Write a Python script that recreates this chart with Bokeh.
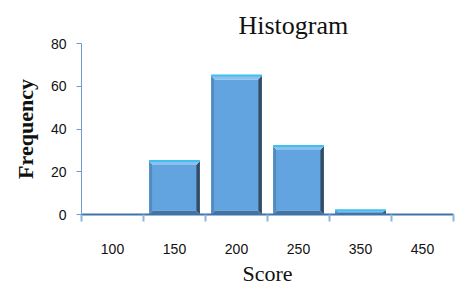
from bokeh.plotting import figure
from bokeh.models import FixedTicker, Range1d
from bokeh.embed import file_html
from bokeh.resources import INLINE

categories = ["100", "150", "200", "250", "350", "450"]
frequency = [0, 25, 65, 32, 2, 0]
y_ticks = [0, 20, 40, 60, 80]

p = figure(width=462, height=288, output_backend="svg", toolbar_location=None,
           x_range=Range1d(0, len(categories)), y_range=Range1d(0, 80),
           min_border_left=81, min_border_right=9, min_border_top=43, min_border_bottom=73)
p.grid.visible = False
p.outline_line_color = None
p.background_fill_color = "white"
p.border_fill_color = "white"

p.title.text = "Histogram"
p.title.align = "left"
p.title.offset = 157
p.title.standoff = 8
p.title.text_font = "Liberation Serif"
p.title.text_font_style = "normal"
p.title.text_font_size = "26px"
p.title.text_color = "#111111"

w = 0.82
bw_x = 0.06
bw_y = 1.8
face_l, face_r, face_b, face_t = [], [], [], []
lx, ly, rx, ry, tx, ty, bx, by = [], [], [], [], [], [], [], []
for i, v in enumerate(frequency):
    if v <= 0:
        continue
    c = i + 0.5
    x0, x1 = c - w / 2, c + w / 2
    dy = min(bw_y, v / 2.0)
    face_l.append(x0 + bw_x); face_r.append(x1 - bw_x)
    face_b.append(dy); face_t.append(v - dy)
    lx.append([x0, x0, x0 + bw_x, x0 + bw_x]); ly.append([0, v, v - dy, dy])
    rx.append([x1, x1, x1 - bw_x, x1 - bw_x]); ry.append([0, v, v - dy, dy])
    tx.append([x0, x1, x1 - bw_x, x0 + bw_x]); ty.append([v, v, v - dy, v - dy])
    bx.append([x0, x1, x1 - bw_x, x0 + bw_x]); by.append([0, 0, dy, dy])

p.quad(left=face_l, right=face_r, bottom=face_b, top=face_t, fill_color="#62a4df", line_color=None)
p.patches(lx, ly, fill_color="#4f8cc6", line_color=None)
p.patches(rx, ry, fill_color="#2e4e6c", line_color=None)
p.patches(bx, by, fill_color="#45759f", line_color=None)
p.patches(tx, ty, fill_color="#8bc0ec", line_color=None)
tops = [v for v in frequency if v > 0]
lefts = [i + 0.5 - w / 2 for i, v in enumerate(frequency) if v > 0]
rights = [i + 0.5 + w / 2 for i, v in enumerate(frequency) if v > 0]
p.segment(x0=lefts, y0=tops, x1=rights, y1=tops, line_color="#3fc0f0", line_width=2)

# x axis
xa = p.xaxis[0]
xa.ticker = FixedTicker(ticks=[i + 0.5 for i in range(len(categories))],
                        minor_ticks=list(range(len(categories) + 1)))
xa.major_label_overrides = {i + 0.5: lab for i, lab in enumerate(categories)}
xa.major_tick_line_color = None
xa.major_tick_out = 0
xa.major_tick_in = 0
xa.minor_tick_out = 7
xa.minor_tick_in = 0
xa.minor_tick_line_color = "#8fb5dd"
xa.minor_tick_line_width = 2
xa.axis_line_color = "#3f73ad"
xa.axis_line_width = 2
xa.major_label_standoff = 22
xa.major_label_text_font = "Liberation Sans"
xa.major_label_text_font_size = "14px"
xa.major_label_text_color = "#111111"
xa.axis_label = "Score"
xa.axis_label_text_font = "Liberation Serif"
xa.axis_label_text_font_style = "normal"
xa.axis_label_text_font_size = "22px"
xa.axis_label_text_color = "#111111"
xa.axis_label_standoff = 4

ya = p.yaxis[0]
ya.ticker = FixedTicker(ticks=y_ticks)
ya.minor_tick_line_color = None
ya.major_tick_out = 5
ya.major_tick_in = 0
ya.major_tick_line_color = "#6f9bd0"
ya.axis_line_color = "#6f9bd0"
ya.major_label_standoff = 10
ya.major_label_text_font = "Liberation Sans"
ya.major_label_text_font_size = "14px"
ya.major_label_text_color = "#111111"
ya.axis_label = "Frequency"
ya.axis_label_text_font = "Liberation Serif"
ya.axis_label_text_font_style = "bold"
ya.axis_label_text_font_size = "22px"
ya.axis_label_text_color = "#111111"
ya.axis_label_standoff = 10

open("out.html", "w").write(file_html(p, INLINE))
